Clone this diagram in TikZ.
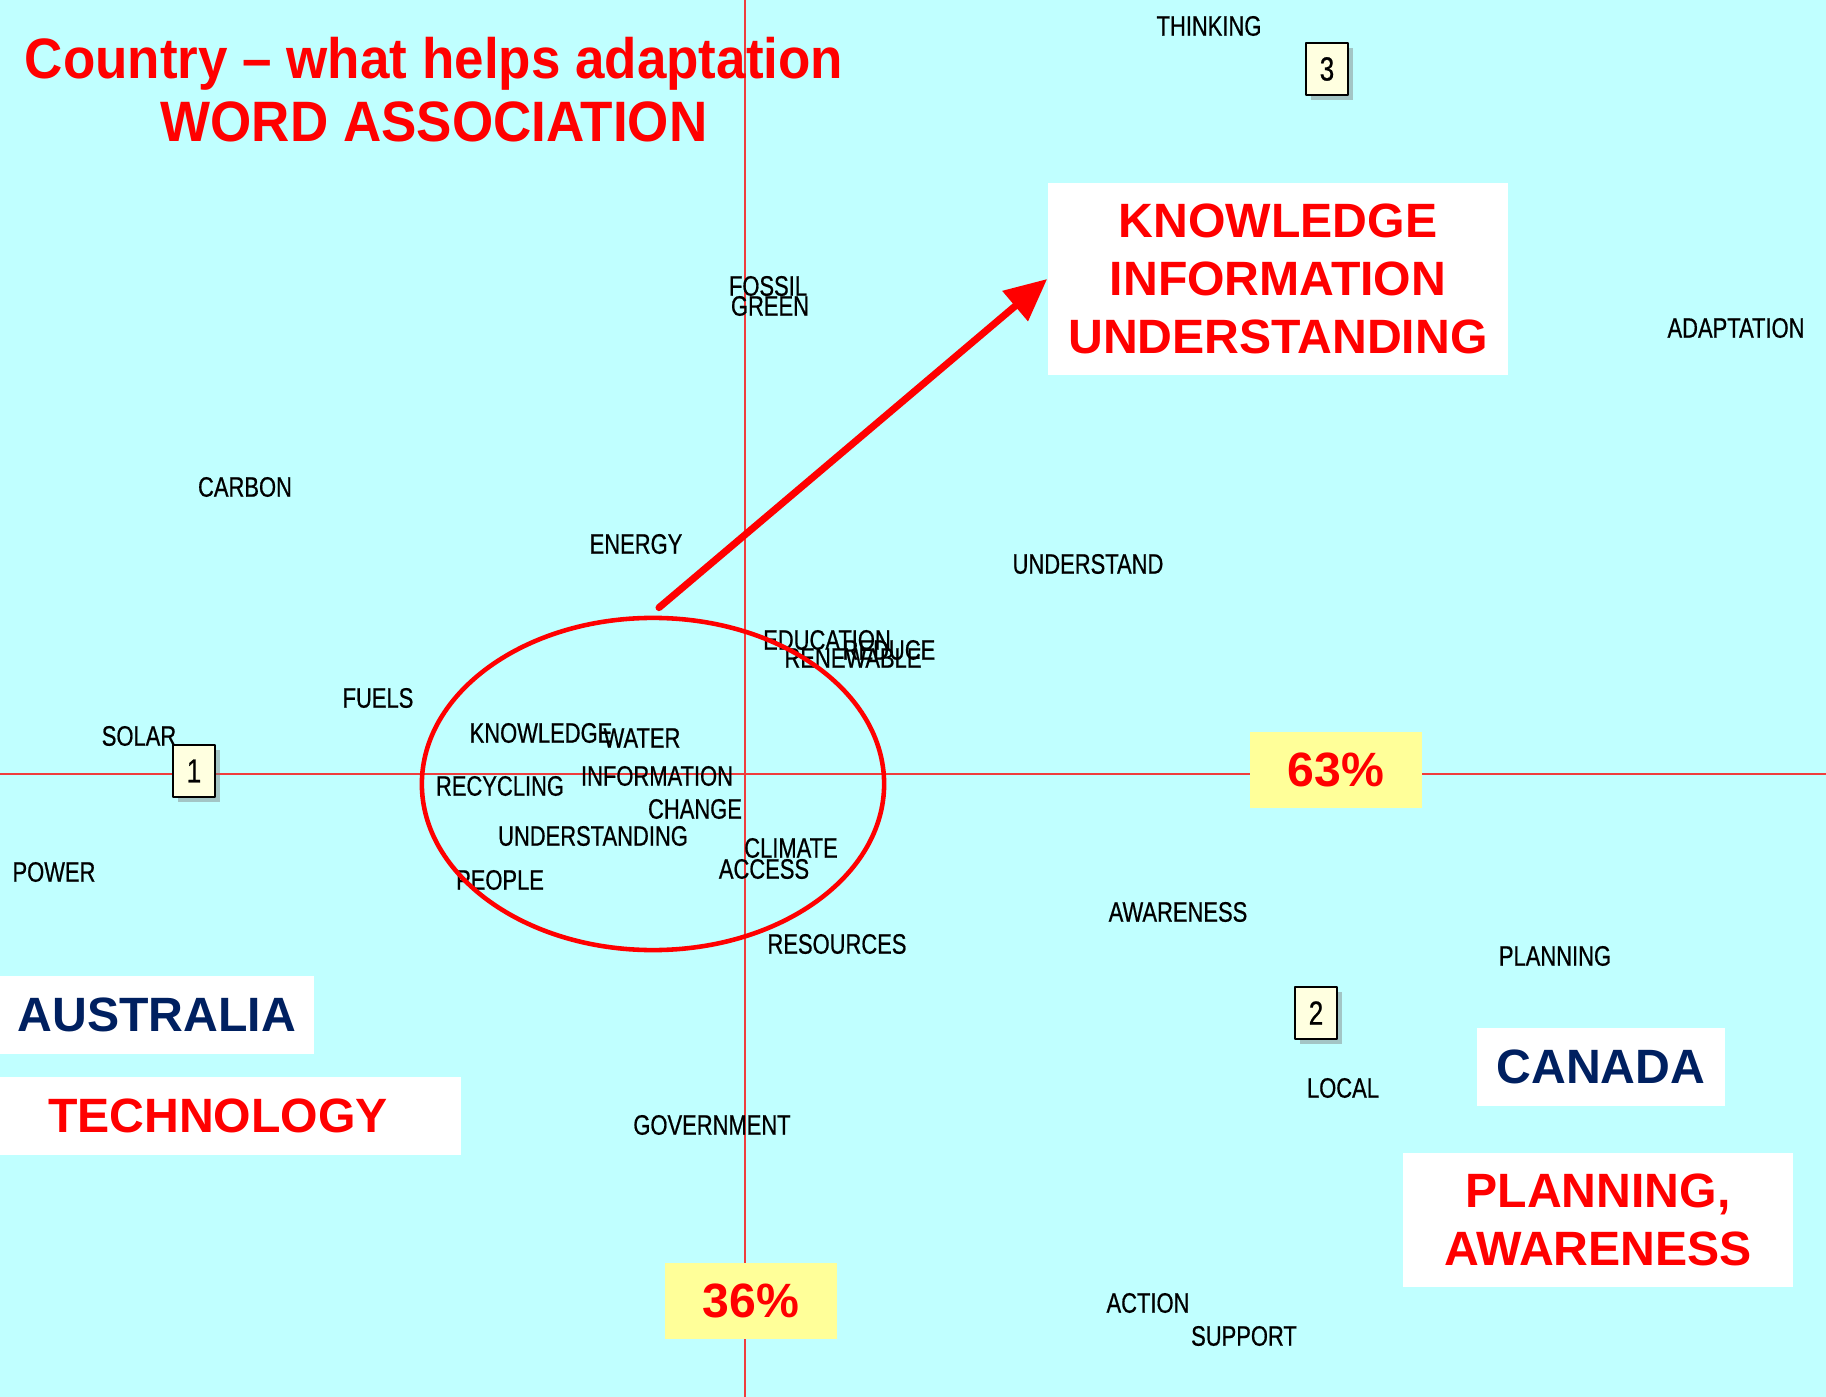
\documentclass[tikz,border=0pt]{standalone}
\usepackage{fontspec}
\setmainfont{Liberation Sans}
\newfontfamily\wordfont[FakeStretch=0.78,FakeBold=0.6]{Liberation Sans}
\newfontfamily\headfont[FakeStretch=0.93]{Liberation Sans}
\usepackage{xcolor}
\usepackage{tikz}
\usetikzlibrary{arrows.meta,shapes.geometric,shadows}
\definecolor{bgcyan}{HTML}{C0FFFF}
\definecolor{navy}{HTML}{002060}
\definecolor{lemon}{HTML}{FFFF99}
\definecolor{cream}{HTML}{FFFFE0}
\definecolor{axisred}{HTML}{F03C3C}
\tikzset{
  word/.style={font=\wordfont\fontsize{8}{9.6}\selectfont,inner sep=0pt},
  callout/.style={fill=white,inner sep=0pt,font=\bfseries\fontsize{13.7}{16.5}\selectfont,align=center},
  pct/.style={fill=lemon,inner sep=0pt,minimum width=1.72cm,minimum height=0.76cm,text=red,font=\bfseries\fontsize{13.7}{16.5}\selectfont},
  numbox/.style={draw=black,line width=0.6pt,fill=cream,minimum width=0.42cm,minimum height=0.52cm,inner sep=0pt,font=\wordfont\fontsize{9.5}{11}\selectfont,drop shadow={shadow xshift=1.5pt,shadow yshift=-1.5pt,opacity=0.45}},
  ring/.style={draw=red,line width=1.3pt,ellipse,inner sep=0pt,minimum width=4.62cm,minimum height=3.32cm}
}
\begin{document}
\begin{tikzpicture}[line cap=round,line join=round,x=0.01cm,y=-0.01cm]
\clip (0,0) rectangle (1826,1397);
\fill [bgcyan] (0,0) rectangle (1826,1397);
% axes
\draw [axisred,line width=0.6pt] (745,0) -- (745,1397);
\draw [axisred,line width=0.6pt] (0,774) -- (1826,774);
% heading
\node [font=\headfont\bfseries\fontsize{16.2}{17.9}\selectfont,text=red,align=center] (title) at (434,90) {Country – what helps adaptation\\WORD ASSOCIATION};
% words
\node [word] (thinking) at (1209,26) {THINKING};
\node [word] (fossil) at (768,286) {FOSSIL};
\node [word] (green) at (770,306) {GREEN};
\node [word] (adaptation) at (1736,328) {ADAPTATION};
\node [word] (carbon) at (245,487) {CARBON};
\node [word] (energy) at (636,544) {ENERGY};
\node [word] (understand) at (1088,564) {UNDERSTAND};
\node [word] (education) at (827,640) {EDUCATION};
\node [word] (reduce) at (889,650) {REDUCE};
\node [word] (renewable) at (853,658) {RENEWABLE};
\node [word] (fuels) at (378,698) {FUELS};
\node [word] (solar) at (139,736) {SOLAR};
\node [word] (knowledge) at (541,733) {KNOWLEDGE};
\node [word] (water) at (642,738) {WATER};
\node [word] (information) at (657,776) {INFORMATION};
\node [word] (recycling) at (500,786) {RECYCLING};
\node [word] (change) at (695,809) {CHANGE};
\node [word] (understanding) at (593,836) {UNDERSTANDING};
\node [word] (climate) at (791,848) {CLIMATE};
\node [word] (access) at (764,869) {ACCESS};
\node [word] (people) at (500,880) {PEOPLE};
\node [word] (power) at (54,872) {POWER};
\node [word] (awareness) at (1178,912) {AWARENESS};
\node [word] (resources) at (837,944) {RESOURCES};
\node [word] (planning) at (1555,956) {PLANNING};
\node [word] (local) at (1343,1088) {LOCAL};
\node [word] (government) at (712,1125) {GOVERNMENT};
\node [word] (action) at (1148,1303) {ACTION};
\node [word] (support) at (1244,1336) {SUPPORT};
% group markers
\node [numbox] (one) at (194,771) {1};
\node [numbox] (two) at (1316,1013) {2};
\node [numbox] (three) at (1327,69) {3};
% percentages
\node [pct] (sixtythree) at (1336,770) {63\%};
\node [pct] (thirtysix) at (751,1301) {36\%};
% callouts
\node [callout,text=red,minimum width=4.6cm,minimum height=1.92cm] (knowbox) at (1278,279) {KNOWLEDGE\\INFORMATION\\UNDERSTANDING};
\node [callout,text=navy,minimum width=3.14cm,minimum height=0.78cm] (australia) at (157,1015) {AUSTRALIA};
\node [callout,text=red,minimum width=4.61cm,minimum height=0.77cm] (technology) at (230,1116) {TECHNOLOGY\hspace*{0.24cm}};
\node [callout,text=navy,minimum width=2.48cm,minimum height=0.77cm] (canada) at (1601,1067) {CANADA};
\node [callout,text=red,minimum width=3.9cm,minimum height=1.34cm] (planbox) at (1598,1220) {PLANNING,\\AWARENESS};
% cluster and arrow
\node [ring] (cluster) at (653,784) {};
\draw [red,line width=2pt,-{Triangle[length=4.2mm,width=3.8mm]}] ([shift={(6,-8)}]cluster.north) -- (knowbox.west);
\end{tikzpicture}
\end{document}
